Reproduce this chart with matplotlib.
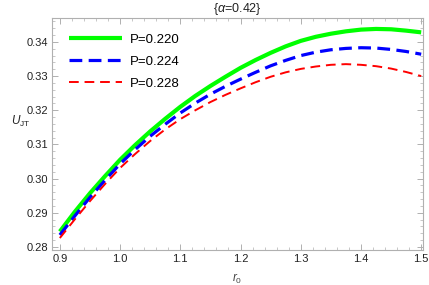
import matplotlib
matplotlib.use("Agg")
import matplotlib.pyplot as plt
from matplotlib.ticker import MultipleLocator

r0 = [0.900, 0.925, 0.950, 0.975, 1.000, 1.025, 1.050, 1.075, 1.100, 1.125, 1.150, 1.175, 1.200,
      1.225, 1.250, 1.275, 1.300, 1.325, 1.350, 1.375, 1.400, 1.425, 1.450, 1.475, 1.500]
u_p220 = [0.2845, 0.2903, 0.2957, 0.3007, 0.3055, 0.3098, 0.3138, 0.3175, 0.3210, 0.3242, 0.3271, 0.3298, 0.3324,
          0.3347, 0.3368, 0.3387, 0.3403, 0.3415, 0.3424, 0.3431, 0.3436, 0.3438, 0.3437, 0.3433, 0.3428]
u_p224 = [0.2835, 0.2891, 0.2945, 0.2995, 0.3043, 0.3085, 0.3124, 0.3159, 0.3192, 0.3221, 0.3247, 0.3270, 0.3291,
          0.3311, 0.3330, 0.3346, 0.3360, 0.3370, 0.3377, 0.3381, 0.3383, 0.3382, 0.3378, 0.3372, 0.3364]
u_p228 = [0.2826, 0.2881, 0.2934, 0.2984, 0.3031, 0.3072, 0.3110, 0.3144, 0.3174, 0.3200, 0.3224, 0.3245, 0.3264,
          0.3282, 0.3298, 0.3311, 0.3321, 0.3328, 0.3333, 0.3335, 0.3333, 0.3329, 0.3322, 0.3312, 0.3300]
labels = ["P=0.220", "P=0.224", "P=0.228"]
title = "{$\\alpha$=0.42}"

plt.rcParams['font.family'] = ['Liberation Sans', 'DejaVu Sans']
plt.rcParams['mathtext.fontset'] = 'custom'
plt.rcParams['mathtext.it'] = 'Liberation Sans:italic'
plt.rcParams['mathtext.rm'] = 'Liberation Sans'

fig = plt.figure(figsize=(4.29, 2.85), dpi=100)
ax = fig.add_axes([52/429, 35/285, 371/429, 232/285])

ax.plot(r0, u_p220, color='#00ff00', lw=3.0, solid_capstyle='butt', label=labels[0])
ax.plot(r0, u_p224, color='#0000ff', lw=2.3, dashes=(4, 2), label=labels[1])
ax.plot(r0, u_p228, color='#ff0000', lw=1.4, dashes=(5, 3), label=labels[2])

ax.set_xlim(0.887, 1.503)
ax.set_ylim(0.2791, 0.3470)
ax.xaxis.set_major_locator(MultipleLocator(0.1))
ax.xaxis.set_minor_locator(MultipleLocator(0.02))
ax.yaxis.set_major_locator(MultipleLocator(0.01))
ax.yaxis.set_minor_locator(MultipleLocator(0.002))
ax.xaxis.set_major_formatter(plt.FuncFormatter(lambda v, p: f"{v:.1f}"))
ax.yaxis.set_major_formatter(plt.FuncFormatter(lambda v, p: f"{v:.2f}"))

for s in ax.spines.values():
    s.set_color('#b0b0b0')
    s.set_linewidth(0.8)
ax.tick_params(which='both', direction='in', top=True, right=True, color='#b0b0b0',
               labelsize=8, labelcolor='#222222', pad=3)
ax.tick_params(which='major', length=4, width=0.7)
ax.tick_params(which='minor', length=2, width=0.5)

ax.set_title(title, fontsize=9, color='#222222', pad=4)
ax.set_xlabel("$r_0$", fontsize=8.5, color='#444444')
ax.xaxis.set_label_coords(0.5, -0.095)
ax.set_ylabel("$U_{\\mathrm{JT}}$", fontsize=8.5, color='#222222', rotation=0)
ax.yaxis.set_label_coords(-0.085, 0.52)

leg = ax.legend(loc='upper left', frameon=False, fontsize=9.5, handlelength=4.0,
                handletextpad=0.6, labelspacing=0.75, borderaxespad=0.6,
                bbox_to_anchor=(0.01, 0.99))

fig.savefig("out.png", dpi=100)
